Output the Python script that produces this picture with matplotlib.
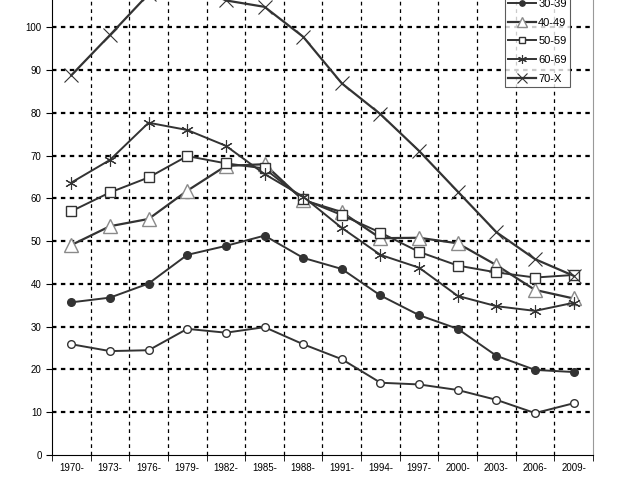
import matplotlib.pyplot as plt
import numpy as np

plt.rcParams['font.family'] = ['Liberation Sans', 'DejaVu Sans']

years = ['1970-', '1973-', '1976-', '1979-', '1982-', '1985-', '1988-',
         '1991-', '1994-', '1997-', '2000-', '2003-', '2006-', '2009-']

g20 = [25.9, 24.3, 24.5, 29.5, 28.6, 29.9, 25.9, 22.4, 16.9, 16.5, 15.2, 12.9, 9.8, 12.1]
g30 = [35.7, 36.8, 40.1, 46.8, 48.9, 51.3, 46.1, 43.5, 37.3, 32.7, 29.5, 23.2, 19.9, 19.4]
g40 = [49.1, 53.5, 55.2, 61.8, 67.6, 68.0, 59.6, 56.8, 50.7, 50.8, 49.5, 44.4, 38.6, 36.6]
g50 = [57.0, 61.4, 64.9, 69.9, 68.2, 67.0, 59.8, 56.1, 52.0, 47.5, 44.3, 42.7, 41.5, 42.1]
g60 = [63.7, 69.0, 77.7, 76.0, 72.3, 65.7, 60.4, 53.1, 46.8, 43.8, 37.2, 34.8, 33.7, 35.6]
g70 = [88.8, 98.2, 107.8, 110.5, 106.3, 104.8, 97.8, 86.9, 79.7, 71.1, 61.6, 52.1, 45.8, 41.9]

fig = plt.figure(figsize=(6.4, 4.8), dpi=100)
ax = fig.add_axes([52 / 640, 25 / 480, 541 / 640, 455 / 480])
x = np.arange(len(years))
lc = '#333333'

# the lowest series has no visible legend entry in the original
ax.plot(x, g20, color=lc, lw=1.4, marker='o', ms=5.5, mfc='white', mec=lc, mew=1, label='_nolegend_')
ax.plot(x, g30, color=lc, lw=1.4, marker='o', ms=5.5, mfc=lc, mec=lc, label='30-39')
ax.plot(x, g40, color=lc, lw=1.6, marker='^', ms=10, mfc='white', mec='#8a8a8a', mew=1, label='40-49')
ax.plot(x, g50, color=lc, lw=1.4, marker='s', ms=6.5, mfc='white', mec=lc, mew=1, label='50-59')
ax.plot(x, g60, color=lc, lw=1.4, marker=(6, 2, 0), ms=9, mec=lc, mew=0.8, label='60-69')
ax.plot(x, g70, color=lc, lw=1.6, marker='x', ms=9.5, mec=lc, mew=0.8, label='70-X')

ax.set_xlim(-0.5, len(years) - 0.5)
ax.set_ylim(0, 106.4)
ax.set_yticks(np.arange(0, 101, 10))
ax.set_xticks(x)
ax.set_xticklabels(years)
ax.set_xticks(np.arange(-0.5, len(years)), minor=True)
ax.tick_params(axis='x', which='major', length=0, labelsize=7, pad=6)
ax.tick_params(axis='x', which='minor', length=4, direction='out')
ax.tick_params(axis='y', length=4, labelsize=7)

for yv in range(10, 101, 10):
    ax.axhline(yv, color='black', lw=1.6, ls=(0, (2, 2)), zorder=0)
for xv in np.arange(0.5, len(years) - 1, 1):
    ax.axvline(xv, color='black', lw=0.9, ls=(0, (3, 3)), zorder=0)

ax.spines['top'].set_visible(False)
ax.spines['right'].set_color('#999999')
ax.spines['left'].set_color('black')
ax.spines['bottom'].set_color('black')

leg = fig.legend(loc='lower right', bbox_to_anchor=(570 / 640, (480 - 87) / 480),
                 fontsize=8, frameon=True, fancybox=False, edgecolor='#333333',
                 labelspacing=0.78, handlelength=2.5, handletextpad=0.2,
                 borderpad=0.3, borderaxespad=0, markerscale=0.7)
leg.get_frame().set_linewidth(0.8)

fig.savefig('out.png', dpi=100)
